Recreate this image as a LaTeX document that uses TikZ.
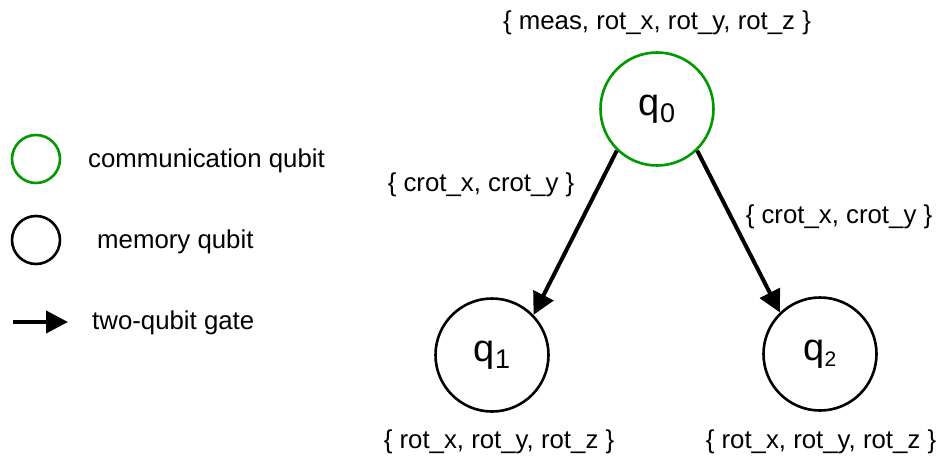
\documentclass[tikz,border=0pt]{standalone}
\usepackage{fontspec}
\setmainfont{Liberation Sans}
\usetikzlibrary{arrows.meta}
\definecolor{commgreen}{RGB}{0,153,0}

\begin{document}
\begin{tikzpicture}[x=1pt, y=-1pt,
    qubit/.style={circle, draw, line width=2.6pt, minimum size=113pt, inner sep=0pt},
    keyqubit/.style={circle, draw, line width=2.6pt, minimum size=48pt, inner sep=0pt},
    gate/.style={line width=4pt, -{Triangle[length=22pt, width=22pt]}},
    lbl/.style={font=\fontsize{25.8}{30}\selectfont, inner sep=0pt}]

\useasboundingbox (0,0) rectangle (939,458);

% Legend
\node[keyqubit, draw=commgreen] (keycomm) at (36,159) {};
\node[lbl, anchor=base west] (keycommtext) at (88,167) {communication qubit};
\node[keyqubit] (keymem) at (36,240) {};
\node[lbl, anchor=base west] (keymemtext) at (97,248) {memory qubit};
\coordinate (keytail) at (13,322);
\coordinate (keyhead) at (68,322);
\draw[gate] (keytail) -- (keyhead);
\node[lbl, anchor=base west] (keygatetext) at (92,329) {two-qubit gate};

% Qubits
\node[qubit, draw=commgreen] (q0) at (657,109)
    {\fontsize{38}{40}\selectfont q\raisebox{-7pt}{\fontsize{27}{30}\selectfont 0}};
\node[qubit] (q1) at (492,355)
    {\fontsize{38}{40}\selectfont q\raisebox{-7pt}{\fontsize{27}{30}\selectfont 1}};
\node[qubit] (q2) at (820,354)
    {\fontsize{38}{40}\selectfont q\raisebox{-6pt}{\fontsize{21}{24}\selectfont 2}};

% Gate sets
\node[lbl, anchor=base] (q0gates) at (657,29) {\{ meas, rot\_x, rot\_y, rot\_z \}};
\node[lbl, anchor=base] (q1gates) at (499,448) {\{ rot\_x, rot\_y, rot\_z \}};
\node[lbl, anchor=base] (q2gates) at (821,448) {\{ rot\_x, rot\_y, rot\_z \}};

% Two-qubit gates
\draw[gate] (q0.226) -- (q1.44);
\draw[gate] (q0.314) -- (q2.134);
\node[lbl, anchor=base] (q01gates) at (481,191) {\{ crot\_x, crot\_y \}};
\node[lbl, anchor=base] (q02gates) at (839,223) {\{ crot\_x, crot\_y \}};

\end{tikzpicture}
\end{document}
